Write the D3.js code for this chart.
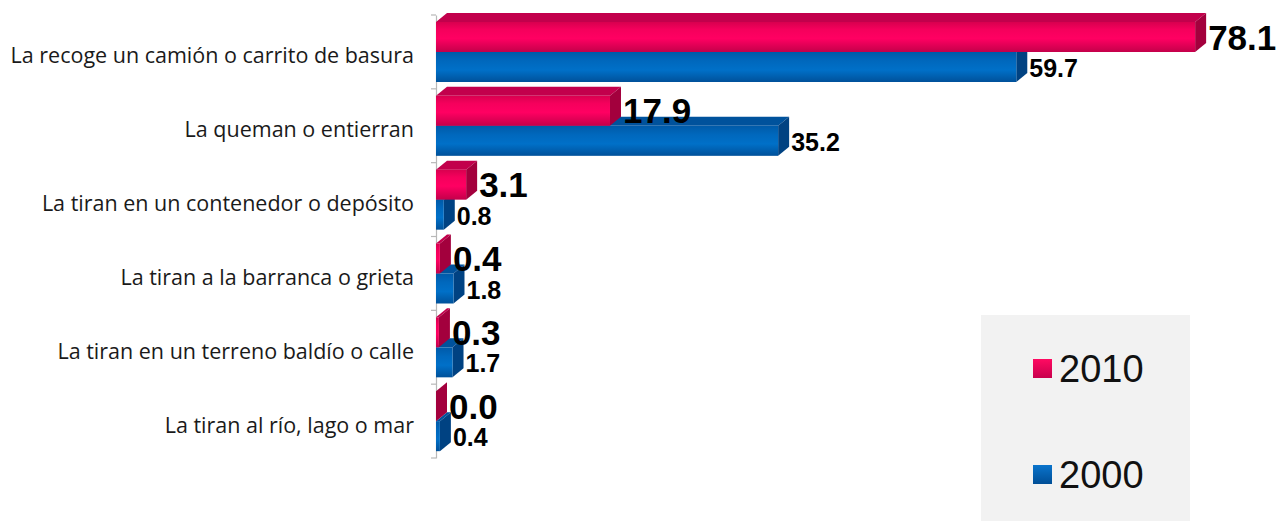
<!DOCTYPE html>
<html>
<head>
<meta charset="utf-8">
<script src="https://cdn.jsdelivr.net/npm/d3@7"></script>
<style>
  body { margin: 0; background: #fff; }
</style>
</head>
<body>
<svg id="chart"></svg>
<script>
const categories = [
	"La recoge un camión o carrito de basura",
	"La queman o entierran",
	"La tiran en un contenedor o depósito",
	"La tiran a la barranca o grieta",
	"La tiran en un terreno baldío o calle",
	"La tiran al río, lago o mar"
]
const values2010 = [78.1, 17.9, 3.1, 0.4, 0.3, 0.0]
const values2000 = [59.7, 35.2, 0.8, 1.8, 1.7, 0.4]
const seriesNames = ["2010", "2000"]

const width = 1279
const height = 521
const depth = { dx: 11, dy: -9 }
const barH = 30

const svg = d3.select("#chart")
	.attr("width", width)
	.attr("height", height)

const defs = svg.append("defs")

// front face gradients
const grad = (id, stops) => {
	const g = defs.append("linearGradient")
		.attr("id", id)
		.attr("x1", 0).attr("y1", 0)
		.attr("x2", 0).attr("y2", 1)
	stops.forEach(([o, c]) => g.append("stop").attr("offset", o).attr("stop-color", c))
}
grad("redFront", [[0, "#d8004f"], [0.25, "#f5005c"], [0.55, "#ff0062"], [1, "#c4004a"]])
grad("blueFront", [[0, "#005aa8"], [0.3, "#0068bd"], [0.6, "#0070c8"], [1, "#00519a"]])
grad("redLegend", [[0, "#ff0a62"], [1, "#c8004c"]])
grad("blueLegend", [[0, "#0a74cc"], [1, "#004e96"]])

const colors = {
	"2010": { front: "url(#redFront)", top: "#c2004c", side: "#a3003d", legend: "url(#redLegend)" },
	"2000": { front: "url(#blueFront)", top: "#00529c", side: "#004282", legend: "url(#blueLegend)" }
}

const x = d3.scaleLinear().domain([0, 100]).range([436, 1408])
const y = d3.scaleBand().domain(categories).range([15, 458]).paddingInner(0).paddingOuter(0)

// axis
const axis = svg.append("g")
	.attr("transform", "translate(436,0)")
	.call(d3.axisLeft(y).tickSize(0).tickFormat(""))
axis.select(".domain").attr("stroke", "#b8b8b8").attr("stroke-width", 1.2)

const tickYs = categories.map(c => y(c)).concat([y.range()[1]])
svg.append("g").selectAll("line")
	.data(tickYs)
	.enter()
	.append("line")
	.attr("x1", 431).attr("x2", 436)
	.attr("y1", d => d).attr("y2", d => d)
	.attr("stroke", "#b8b8b8")
	.attr("stroke-width", 1.2)

// category labels
svg.append("g").selectAll("text")
	.data(categories)
	.enter()
	.append("text")
	.attr("x", 414)
	.attr("y", d => y(d) + y.bandwidth() / 2 + 3)
	.attr("text-anchor", "end")
	.attr("dominant-baseline", "central")
	.text(d => d)
	.style("font-family", "'Open Sans', sans-serif")
	.style("font-size", "21.5px")
	.style("fill", "#1a1a1a")

// one 3D bar
const drawBar = (g, x0, x1, y0, c) => {
	const { dx, dy } = depth
	// top face
	g.append("path")
		.attr("d", `M${x0},${y0} L${x0 + dx},${y0 + dy} L${x1 + dx},${y0 + dy} L${x1},${y0} Z`)
		.attr("fill", c.top)
	// side face
	g.append("path")
		.attr("d", `M${x1},${y0} L${x1 + dx},${y0 + dy} L${x1 + dx},${y0 + barH + dy} L${x1},${y0 + barH} Z`)
		.attr("fill", c.side)
	// front face
	if (x1 > x0) {
		g.append("rect")
			.attr("x", x0).attr("y", y0)
			.attr("width", x1 - x0).attr("height", barH)
			.attr("fill", c.front)
	}
}

const bars = svg.append("g")
const labels = svg.append("g")

categories.forEach((cat, i) => {
	const top = y(cat) + 7
	const g = bars.append("g")
	// blue behind, red over it
	drawBar(g, x(0), x(values2000[i]), top + barH, colors["2000"])
	drawBar(g, x(0), x(values2010[i]), top, colors["2010"])

	labels.append("text")
		.attr("x", x(values2010[i]) + depth.dx + 2)
		.attr("y", top + barH / 2)
		.attr("dominant-baseline", "central")
		.text(values2010[i].toFixed(1))
		.style("font-family", "'Liberation Sans', Arial, sans-serif")
		.style("font-size", "35px")
		.style("font-weight", "bold")
		.style("fill", "#000")

	labels.append("text")
		.attr("x", x(values2000[i]) + depth.dx + 2)
		.attr("y", top + barH + barH / 2 + 1)
		.attr("dominant-baseline", "central")
		.text(values2000[i].toFixed(1))
		.style("font-family", "'Liberation Sans', Arial, sans-serif")
		.style("font-size", "25px")
		.style("font-weight", "bold")
		.style("fill", "#000")
})

// legend
const legend = svg.append("g")
legend.append("rect")
	.attr("x", 981).attr("y", 315)
	.attr("width", 209).attr("height", 206)
	.attr("fill", "#f2f2f2")

const legendY = d3.scalePoint().domain(seriesNames).range([368, 474])
seriesNames.forEach(s => {
	legend.append("rect")
		.attr("x", 1033).attr("y", legendY(s) - 9)
		.attr("width", 19).attr("height", 19)
		.attr("fill", colors[s].legend)
	legend.append("text")
		.attr("x", 1059).attr("y", legendY(s) + 1)
		.attr("dominant-baseline", "central")
		.text(s)
		.style("font-family", "'Liberation Sans', Arial, sans-serif")
		.style("font-size", "38px")
		.style("fill", "#111")
})
</script>
</body>
</html>
